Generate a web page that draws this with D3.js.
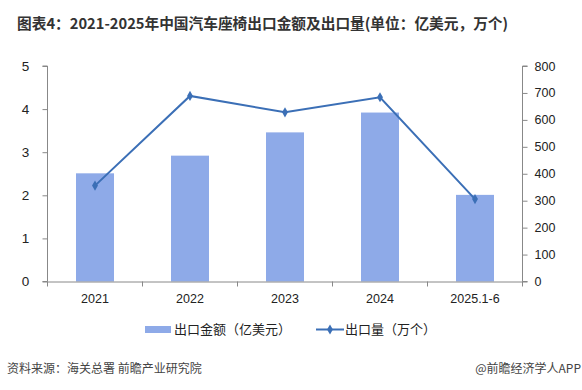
<!DOCTYPE html>
<html><head><meta charset="utf-8">
<script src="https://cdn.jsdelivr.net/npm/d3@7"></script>
<style>body{margin:0;background:#fff;}svg{display:block;}</style>
</head><body>
<script>
const categories = ["2021","2022","2023","2024","2025.1-6"];
const exportValue = [2.51, 2.92, 3.46, 3.92, 2.01];   // 亿美元
const exportVolume = [356, 689, 628, 684, 306];       // 万个
const leftTicks = [0,1,2,3,4,5];
const rightTicks = [0,100,200,300,400,500,600,700,800];

const W = 582, H = 390;
const svg = d3.select("body").append("svg").attr("width", W).attr("height", H);
const font = "'Liberation Sans', Arial, sans-serif";
const cjk = "'Noto Sans CJK SC', sans-serif";

const x0 = 47.5, x1 = 522.5, yTop = 66, yBot = 281.5;
const xb = d3.scaleBand().domain(categories).range([x0, x1]);
const yL = d3.scaleLinear().domain([0,5]).range([yBot, yTop]);
const yR = d3.scaleLinear().domain([0,800]).range([yBot, yTop]);

svg.append("text").attr("x", 17).attr("y", 29).attr("font-family", cjk).attr("font-weight", "bold")
  .attr("font-size", 14.7).attr("fill", "#333").text("图表4：2021-2025年中国汽车座椅出口金额及出口量(单位：亿美元，万个)");

// bars
svg.append("g").selectAll("rect").data(categories).join("rect")
  .attr("x", d => xb(d) + xb.bandwidth()/2 - 19)
  .attr("width", 38)
  .attr("y", (d,i) => yL(exportValue[i]))
  .attr("height", (d,i) => yBot - yL(exportValue[i]))
  .attr("fill", "#8eaae8");

// axes
const axisColor = "#888";
const gl = svg.append("g").attr("transform", `translate(${x0},0)`)
  .call(d3.axisLeft(yL).tickValues(leftTicks).tickSize(5).tickFormat(d3.format("d")));
const gr = svg.append("g").attr("transform", `translate(${x1},0)`)
  .call(d3.axisRight(yR).tickValues(rightTicks).tickSize(5).tickFormat(d3.format("d")));
const gx = svg.append("g").attr("transform", `translate(0,${yBot})`)
  .call(d3.axisBottom(xb).tickSize(0).tickPadding(13));
[gl, gr, gx].forEach(g => {
  g.selectAll("path.domain").attr("stroke", axisColor);
  g.selectAll("line").attr("stroke", axisColor);
  g.selectAll("text").attr("font-family", font).attr("font-size", 12.5).attr("fill", "#222");
});
gl.select("path.domain").attr("d", `M-5,${yTop}H0V${yBot}H-5`);
gr.select("path.domain").attr("d", `M5,${yTop}H0V${yBot}H5`);
gl.selectAll("text").attr("x", -22).attr("text-anchor", "middle").attr("font-size", 13.5);
gr.selectAll("text").attr("x", 12).attr("text-anchor", "start");
const bounds = categories.map(d => xb(d)).concat([x1]);
svg.append("g").selectAll("line").data(bounds).join("line")
  .attr("x1", d => d).attr("x2", d => d).attr("y1", yBot).attr("y2", yBot + 5)
  .attr("stroke", axisColor);

// line
const lineColor = "#3b6fb6";
const pts = categories.map((c,i) => [xb(c) + xb.bandwidth()/2, yR(exportVolume[i])]);
svg.append("path").attr("d", d3.line()(pts)).attr("fill", "none").attr("stroke", lineColor).attr("stroke-width", 2);
svg.append("g").selectAll("path").data(pts).join("path")
  .attr("d", d3.symbol(d3.symbolDiamond, 30)())
  .attr("transform", d => `translate(${d[0]},${d[1]})`).attr("fill", lineColor);

// legend
const lg = svg.append("g");
lg.append("rect").attr("x", 145).attr("y", 326).attr("width", 26).attr("height", 7).attr("fill", "#8eaae8");
lg.append("text").attr("x", 174).attr("y", 334).attr("font-family", cjk).attr("font-size", 13).attr("fill", "#222").text("出口金额（亿美元）");
lg.append("line").attr("x1", 316).attr("x2", 344).attr("y1", 329.5).attr("y2", 329.5).attr("stroke", lineColor).attr("stroke-width", 2);
lg.append("path").attr("d", d3.symbol(d3.symbolDiamond, 30)()).attr("transform", "translate(330,329.5)").attr("fill", lineColor);
lg.append("text").attr("x", 345).attr("y", 334).attr("font-family", cjk).attr("font-size", 13).attr("fill", "#222").text("出口量（万个）");

// footer
svg.append("text").attr("x", 7).attr("y", 373).attr("font-family", cjk).attr("font-size", 12).attr("fill", "#444").text("资料来源：海关总署 前瞻产业研究院");
svg.append("text").attr("x", 581).attr("y", 373).attr("text-anchor", "end").attr("font-family", cjk).attr("font-size", 12).attr("fill", "#444").text("@前瞻经济学人APP");
</script>
</body></html>
